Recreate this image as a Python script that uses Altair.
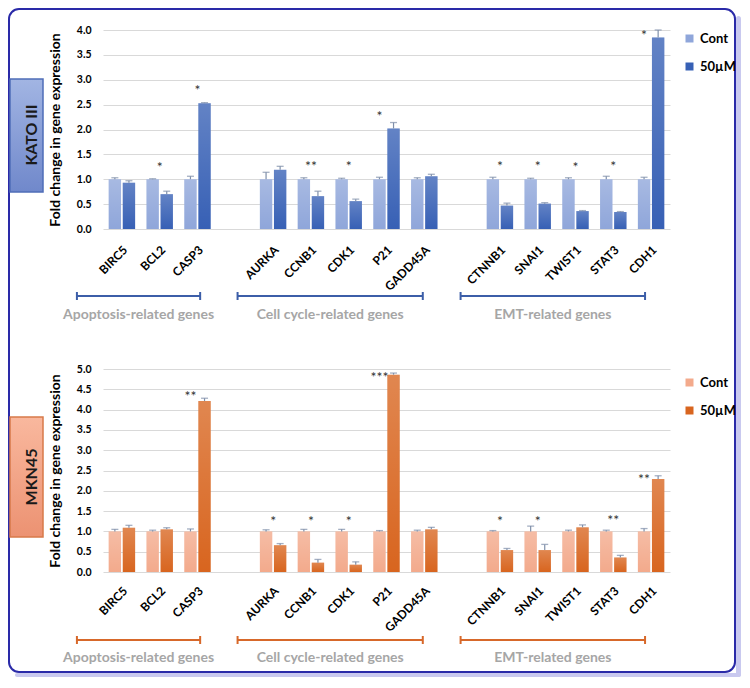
import altair as alt
import pandas as pd

FONT = "Lato"

# ---------------- data ----------------
genes = ["BIRC5", "BCL2", "CASP3", "AURKA", "CCNB1", "CDK1", "P21", "GADD45A",
         "CTNNB1", "SNAI1", "TWIST1", "STAT3", "CDH1"]
slot_order = ["BIRC5", "BCL2", "CASP3", " ", "AURKA", "CCNB1", "CDK1", "P21", "GADD45A",
              "  ", "CTNNB1", "SNAI1", "TWIST1", "STAT3", "CDH1"]
series = ["Cont", "50µM"]

kato_cont = [1.00, 1.00, 1.00, 1.00, 1.00, 1.00, 1.00, 1.00, 1.00, 1.00, 1.00, 1.00, 1.00]
kato_cont_err = [0.03, 0.01, 0.06, 0.14, 0.03, 0.02, 0.04, 0.03, 0.04, 0.02, 0.03, 0.06, 0.04]
kato_treat = [0.93, 0.70, 2.53, 1.19, 0.66, 0.56, 2.02, 1.06, 0.47, 0.51, 0.36, 0.34, 3.85]
kato_treat_err = [0.04, 0.06, 0.01, 0.07, 0.10, 0.04, 0.12, 0.04, 0.05, 0.02, 0.01, 0.01, 0.15]
kato_stars = ["", "*", "*", "", "**", "*", "*", "", "*", "*", "*", "*", "*"]
kato_star_y = [0, 1.30, 2.85, 0, 1.32, 1.32, 2.33, 0, 1.33, 1.33, 1.31, 1.33, 3.96]
kato_star_over = ["pair", "pair", "pair", "pair", "pair", "pair", "Cont", "pair",
                  "pair", "pair", "pair", "pair", "Cont"]
kato_ticks = [0.0, 0.5, 1.0, 1.5, 2.0, 2.5, 3.0, 3.5, 4.0]

mkn_cont = [1.00, 1.00, 1.00, 1.00, 1.00, 1.00, 1.00, 1.00, 1.00, 1.00, 1.00, 1.00, 1.00]
mkn_cont_err = [0.05, 0.03, 0.06, 0.04, 0.05, 0.05, 0.02, 0.03, 0.02, 0.13, 0.03, 0.03, 0.07]
mkn_treat = [1.09, 1.05, 4.21, 0.66, 0.23, 0.18, 4.86, 1.05, 0.54, 0.54, 1.10, 0.36, 2.29]
mkn_treat_err = [0.06, 0.04, 0.07, 0.04, 0.08, 0.07, 0.04, 0.05, 0.04, 0.14, 0.06, 0.05, 0.08]
mkn_stars = ["", "", "**", "*", "*", "*", "***", "", "*", "*", "", "**", "**"]
mkn_star_y = [0, 0, 4.40, 1.33, 1.33, 1.33, 4.88, 0, 1.33, 1.33, 0, 1.36, 2.37]
mkn_star_over = ["pair", "pair", "Cont", "pair", "pair", "pair", "Cont", "pair",
                 "pair", "pair", "pair", "pair", "Cont"]
mkn_ticks = [0.0, 0.5, 1.0, 1.5, 2.0, 2.5, 3.0, 3.5, 4.0, 4.5, 5.0]

group_labels = ["Apoptosis-related genes", "Cell cycle-related genes", "EMT-related genes"]
group_start = [-1.19, 3.06, 8.96]   # in slot units
group_end = [2.07, 7.96, 13.84]

Y_TITLE = "Fold change in gene expression"


def grad(c1, c2):
    return alt.LinearGradient(gradient="linear",
                              stops=[alt.GradientStop(color=c1, offset=0),
                                     alt.GradientStop(color=c2, offset=1)],
                              x1=0, x2=0, y1=0, y2=1)


def make_plot(cont, cont_err, treat, treat_err, stars, star_y, star_over, ticks, height,
              bar_colors, err_color, box_fill, box_stroke, cell_name,
              box_y, box_y2, name_y, legend_y, label_pad, border=False):
    rows = []
    for i, g in enumerate(genes):
        rows.append(dict(gene=g, series=series[0], value=cont[i], top=cont[i] + cont_err[i]))
        rows.append(dict(gene=g, series=series[1], value=treat[i], top=treat[i] + treat_err[i]))
    df = pd.DataFrame(rows)
    sdf = pd.DataFrame(dict(gene=genes, star=stars, star_y=star_y, over=star_over))
    sdf = sdf[sdf.star != ""]
    s_mid = sdf[sdf.over == "pair"]
    s_cont = sdf[sdf.over != "pair"]

    band_scale = alt.Scale(domain=slot_order, paddingInner=0.3, paddingOuter=0.15)
    x_enc = alt.X("gene:N", scale=band_scale,
                  axis=alt.Axis(labelAngle=-45, labelAlign="right", labelBaseline="top",
                                labelFont=FONT, labelFontSize=12, labelFontWeight="bold",
                                labelColor="#000000", labelPadding=label_pad, domain=False,
                                ticks=False, grid=False, labelOverlap=False),
                  title=None)
    off_scale = alt.Scale(domain=series, paddingInner=0.12, paddingOuter=0)
    xo_enc = alt.XOffset("series:N", scale=off_scale)

    def y_enc(field):
        return alt.Y(field, type="quantitative",
                     scale=alt.Scale(domain=[0, ticks[-1]], nice=False, zero=True),
                     axis=alt.Axis(values=ticks, format=".1f", grid=True, gridColor="#D9D9D9",
                                   gridWidth=1, domain=False, ticks=False, labelFont=FONT,
                                   labelFontSize=10.5, labelFontWeight="bold", labelColor="#000000",
                                   labelPadding=12, titleFont=FONT, titleFontSize=14,
                                   titleFontWeight="bold", titleColor="#000000",
                                   titleX=-47.5, titleY=height / 2, titleAngle=270,
                                   titleAlign="center", titleBaseline="middle"),
                     title=Y_TITLE)

    color_enc = alt.Color("series:N", scale=alt.Scale(domain=series, range=bar_colors),
                          legend=alt.Legend(title=None, orient="none", legendX=580, legendY=legend_y,
                                            symbolType="square", symbolSize=64, symbolStrokeWidth=0,
                                            labelFont=FONT, labelFontSize=13, labelFontWeight="bold",
                                            labelColor="#000000", rowPadding=14, padding=0,
                                            labelOffset=4, direction="vertical"))

    bars = alt.Chart(df).mark_bar().encode(x=x_enc, xOffset=xo_enc, y=y_enc("value"), color=color_enc)
    shine = alt.Chart(df).mark_bar(
        fill=grad("rgba(255,255,255,0.22)", "rgba(255,255,255,0)")
    ).encode(x=x_enc, xOffset=xo_enc, y=y_enc("value"))
    err = alt.Chart(df).mark_rule(color=err_color, strokeWidth=1.2).encode(
        x=x_enc, xOffset=xo_enc, y=y_enc("value"), y2="top:Q")
    cap = alt.Chart(df).mark_tick(color=err_color, thickness=1.3, size=7).encode(
        x=x_enc, xOffset=xo_enc, y=y_enc("top"))
    st_kw = dict(font=FONT, fontSize=14, color="#333333", baseline="middle", dy=4)
    star_mid = alt.Chart(s_mid).mark_text(**st_kw).encode(
        x=x_enc, y=y_enc("star_y"), text="star:N")
    star_cont = alt.Chart(s_cont).mark_text(**st_kw).encode(
        x=x_enc, xOffset=alt.XOffset("over:N", scale=off_scale), y=y_enc("star_y"), text="star:N")

    one = pd.DataFrame({"k": [0]})
    box = alt.Chart(one).mark_rect(fill=box_fill, stroke=box_stroke, strokeWidth=1.5).encode(
        x=alt.value(-93), x2=alt.value(-60), y=alt.value(box_y), y2=alt.value(box_y2))
    box_text = alt.Chart(one).mark_text(font=FONT, fontSize=16, fontWeight="bold", color="#1A1A1A",
                                        angle=270, baseline="middle", align="center").encode(
        x=alt.value(-71), y=alt.value(name_y), text=alt.value(cell_name))

    layers = []
    if border:
        shadow_r = alt.Chart(one).mark_rect(fill="#C9C9EF", cornerRadius=3).encode(
            x=alt.value(633), x2=alt.value(638), y=alt.value(-14), y2=alt.value(647))
        shadow_b = alt.Chart(one).mark_rect(fill="#C9C9EF", cornerRadius=3).encode(
            x=alt.value(-88), x2=alt.value(638), y=alt.value(643), y2=alt.value(647))
        frame = alt.Chart(one).mark_rect(fill="transparent", stroke="#2A2AA8", strokeWidth=2,
                                         cornerRadius=10).encode(
            x=alt.value(-94), x2=alt.value(632), y=alt.value(-21), y2=alt.value(642))
        layers += [shadow_r, shadow_b, frame]
    layers += [box, box_text, bars, shine, err, cap, star_mid, star_cont]
    return alt.layer(*layers).properties(width=567, height=height)


def make_brackets(accent, line_y, text_y):
    bdf = pd.DataFrame(dict(label=group_labels, start=group_start, end=group_end))
    bdf["mid"] = (bdf["start"] + bdf["end"]) / 2
    edf = pd.DataFrame(dict(pos=group_start + group_end))
    xq = alt.Scale(domain=[-0.5, 14.5], nice=False, zero=False)
    b_line = alt.Chart(bdf).mark_rule(color=accent, strokeWidth=2).encode(
        x=alt.X("start:Q", scale=xq, axis=None), x2="end:Q", y=alt.value(line_y))
    b_caps = alt.Chart(edf).mark_rule(color=accent, strokeWidth=2).encode(
        x=alt.X("pos:Q", scale=xq, axis=None), y=alt.value(line_y - 4), y2=alt.value(line_y + 4))
    b_text = alt.Chart(bdf).mark_text(font=FONT, fontSize=14, fontWeight="bold", color="#A6A6A6").encode(
        x=alt.X("mid:Q", scale=xq, axis=None), y=alt.value(text_y), text="label:N")
    return alt.layer(b_line, b_caps, b_text).properties(width=567, height=60)


top = make_plot(kato_cont, kato_cont_err, kato_treat, kato_treat_err, kato_stars, kato_star_y,
                kato_star_over, kato_ticks, 199,
                bar_colors=["#8FA6DA", "#3760B5"], err_color="#7F8FA9",
                box_fill=grad("#A2B5E3", "#7088CB"), box_stroke="#4F6DB8", cell_name="KATO III",
                box_y=49, box_y2=162, name_y=105, legend_y=2, label_pad=15, border=True)
top_br = make_brackets("#3C5EA8", 27, 46)

bottom = make_plot(mkn_cont, mkn_cont_err, mkn_treat, mkn_treat_err, mkn_stars, mkn_star_y,
                   mkn_star_over, mkn_ticks, 203,
                   bar_colors=["#F3AA8C", "#D8651F"], err_color="#7F8FA9",
                   box_fill=grad("#F9B89E", "#EC9272"), box_stroke="#D87A4A", cell_name="MKN45",
                   box_y=48, box_y2=168, name_y=108, legend_y=7, label_pad=13)
bottom_br = make_brackets("#D7682A", 28, 46)

chart = alt.vconcat(top, top_br, bottom, bottom_br, spacing=40, bounds="flush").resolve_scale(
    color="independent").properties(padding=0).configure_view(strokeWidth=0)

chart.save("out.html", embed_options={"renderer": "svg", "actions": False})
